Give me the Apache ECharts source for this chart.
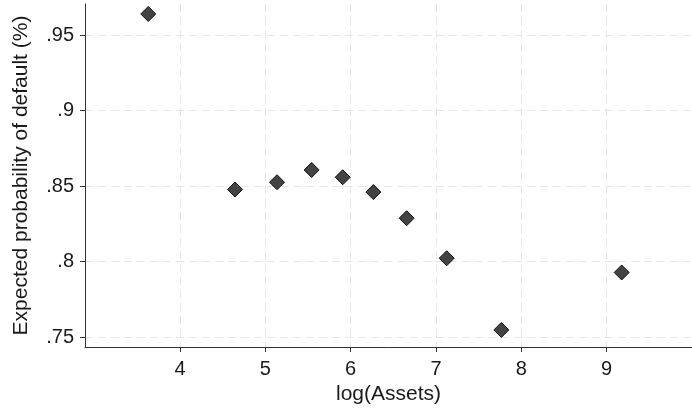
<!DOCTYPE html>
<html>
<head>
<meta charset="utf-8">
<script src="https://cdn.jsdelivr.net/npm/echarts@6/dist/echarts.min.js"></script>
<style>html,body{margin:0;padding:0;background:#fff}#c{width:692px;height:410px}</style>
</head>
<body>
<div id="c"></div>
<script>
const logAssets = [3.628, 4.645, 5.137, 5.543, 5.907, 6.266, 6.656, 7.125, 7.766, 9.176];
const probDefault = [0.9639, 0.8478, 0.8526, 0.8607, 0.8559, 0.8461, 0.8288, 0.8023, 0.7549, 0.7929];
const xTicks = [4, 5, 6, 7, 8, 9];
const yTicks = [0.75, 0.8, 0.85, 0.9, 0.95];
const xTitle = 'log(Assets)';
const yTitle = 'Expected probability of default (%)';

const font = 'Arial, "Liberation Sans", sans-serif';
const chart = echarts.init(document.getElementById('c'), null, {renderer: 'canvas'});
const gridLine = {show: true, lineStyle: {color: '#e6e6e6', type: [8, 5], width: 1}};
chart.setOption({
  animation: false,
  grid: {left: 85, top: 4, right: 0, bottom: 63, containLabel: false, outerBoundsMode: 'none'},
  xAxis: {
    type: 'value', min: 2.887, max: 10.0,
    name: xTitle, nameLocation: 'middle', nameGap: 34,
    nameTextStyle: {fontFamily: font, fontSize: 21, color: '#1a1a1a'},
    axisLine: {show: true, lineStyle: {color: '#333', width: 1}},
    axisTick: {show: true, length: 5, customValues: xTicks, lineStyle: {color: '#333'}},
    axisLabel: {customValues: xTicks, margin: 12, fontFamily: font, fontSize: 20, color: '#1a1a1a'},
    splitLine: gridLine
  },
  yAxis: {
    type: 'value', min: 0.7436, max: 0.9705,
    name: yTitle, nameLocation: 'middle', nameGap: 53, nameRotate: 90,
    nameTextStyle: {fontFamily: font, fontSize: 21, color: '#1a1a1a'},
    axisLine: {show: true, lineStyle: {color: '#333', width: 1}},
    axisTick: {show: true, length: 5, customValues: yTicks, lineStyle: {color: '#333'}},
    axisLabel: {customValues: yTicks, margin: 11, fontFamily: font, fontSize: 20, color: '#1a1a1a',
      formatter: v => String(Number(v.toFixed(2))).replace(/^0/, '')},
    splitLine: gridLine
  },
  series: [{
    type: 'scatter',
    symbol: 'diamond',
    symbolSize: 15,
    data: logAssets.map((x, i) => [x, probDefault[i]]),
    itemStyle: {color: '#434343', borderColor: '#111', borderWidth: 1, opacity: 1}
  }]
});
</script>
</body>
</html>
